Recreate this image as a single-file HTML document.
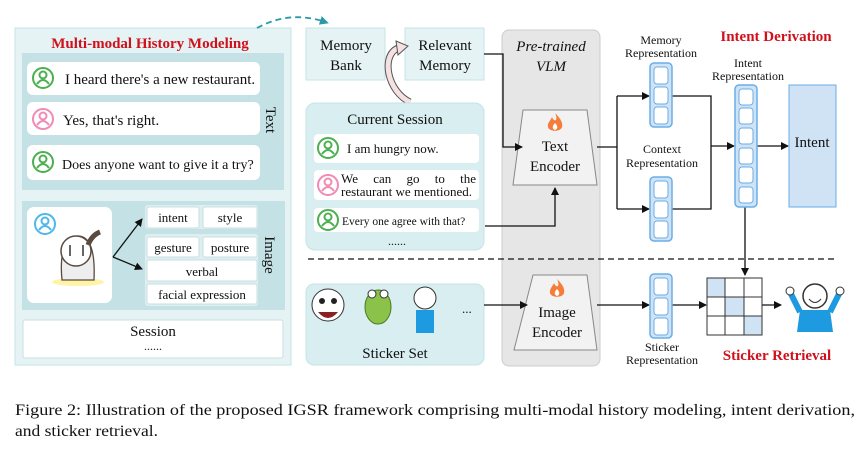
<!DOCTYPE html>
<html><head><meta charset="utf-8"><style>
body{margin:0;background:#fff}
svg{display:block}
text{font-family:"Liberation Serif",serif;fill:#111}
</style></head><body>
<svg width="865" height="451" viewBox="0 0 865 451" xmlns="http://www.w3.org/2000/svg">
<defs>
<marker id="a" markerWidth="8" markerHeight="8" refX="7" refY="4" orient="auto" markerUnits="userSpaceOnUse"><path d="M0,0 L8,4 L0,8z" fill="#111"/></marker>
<marker id="t" markerWidth="9" markerHeight="9" refX="5" refY="4.5" orient="auto" markerUnits="userSpaceOnUse"><path d="M0,0 L9,4.5 L0,9z" fill="#2a9aa8"/></marker>
<g id="user"><circle r="10" fill="none" stroke-width="2"/><circle cy="-3" r="3.5" fill="none" stroke-width="2"/><path d="M-6,6 Q0,-2 6,6" fill="none" stroke-width="2"/></g>
<g id="vec3"><rect x="0" y="0" width="22" height="64" rx="4" fill="#cfe3f5" stroke="#6aaee8" stroke-width="1.5"/><rect x="4" y="4" width="14" height="17" rx="3" fill="#fff" stroke="#6aaee8"/><rect x="4" y="24" width="14" height="17" rx="3" fill="#fff" stroke="#6aaee8"/><rect x="4" y="44" width="14" height="17" rx="3" fill="#fff" stroke="#6aaee8"/></g>
<g id="fire"><path d="M0,-10 C6,-4 8,0 7,4 C6,9 -6,9 -7,4 C-8,0 -4,-3 -3,-6 C-2,-3 0,-2 1,-3 C2,-5 1,-8 0,-10z" fill="#f57c3a"/><path d="M0,0 C3,3 3,6 0,7 C-3,6 -3,3 0,0z" fill="#fff"/></g>
</defs>

<rect x="15" y="28" width="276" height="337" fill="#e5f3f4" stroke="#c5e3e6"/>
<text x="150" y="48" text-anchor="middle" font-weight="bold" font-size="15" style="fill:#d0101a">Multi-modal History Modeling</text>
<rect x="22" y="53" width="262" height="137" fill="#c4e2e5"/>
<rect x="27" y="62" width="233" height="33" rx="6" fill="#fff"/>
<rect x="27" y="102" width="233" height="33" rx="6" fill="#fff"/>
<rect x="27" y="145" width="233" height="35" rx="6" fill="#fff"/>
<use href="#user" x="43" y="78" stroke="#4caf50"/>
<use href="#user" x="43" y="119" stroke="#f08bb5"/>
<use href="#user" x="43" y="162" stroke="#4caf50"/>
<text x="65" y="84" font-size="15">I heard there's a new restaurant.</text>
<text x="63" y="125" font-size="15">Yes, that's right.</text>
<text x="62" y="169" font-size="14">Does anyone want to give it a try?</text>
<text transform="translate(266,120) rotate(90)" text-anchor="middle" font-size="15">Text</text>

<rect x="22" y="201" width="263" height="109" fill="#c4e2e5"/>
<rect x="27" y="207" width="85" height="96" rx="7" fill="#fff"/>
<use href="#user" x="45" y="224" stroke="#4fb8ea"/>
<ellipse cx="78" cy="282" rx="26" ry="4" fill="#fff3a8"/>
<path d="M62,280 Q58,240 78,236 Q96,236 94,280z" fill="#eee" stroke="#5a4a40" stroke-width="1.3"/>
<circle cx="76" cy="251" r="15" fill="#fff" stroke="#5a4a40" stroke-width="1.5"/>
<line x1="70" y1="245" x2="70" y2="256" stroke="#333" stroke-width="1.5"/><line x1="83" y1="245" x2="83" y2="256" stroke="#333" stroke-width="1.5"/>
<path d="M88,245 Q92,235 100,232" stroke="#5a4a40" stroke-width="5" fill="none"/>
<rect x="145" y="205" width="113" height="24" rx="3" fill="#ddeff1"/>
<rect x="145" y="234" width="113" height="72" rx="3" fill="#ddeff1"/>
<g stroke="#c9dfe1">
<rect x="147" y="207" width="52" height="21" rx="2" fill="#fff"/><rect x="203" y="207" width="54" height="21" rx="2" fill="#fff"/>
<rect x="147" y="237" width="52" height="20" rx="2" fill="#fff"/><rect x="203" y="237" width="54" height="20" rx="2" fill="#fff"/>
<rect x="147" y="260" width="110" height="21" rx="2" fill="#fff"/><rect x="147" y="284" width="110" height="20" rx="2" fill="#fff"/>
</g>
<g font-size="13" text-anchor="middle">
<text x="173" y="222">intent</text><text x="230" y="222">style</text>
<text x="173" y="252">gesture</text><text x="230" y="252">posture</text>
<text x="202" y="276">verbal</text><text x="202" y="299">facial expression</text>
</g>
<line x1="113" y1="257" x2="142" y2="219" stroke="#111" stroke-width="1.3" marker-end="url(#a)"/>
<line x1="113" y1="257" x2="142" y2="269" stroke="#111" stroke-width="1.3" marker-end="url(#a)"/>
<text transform="translate(265,255) rotate(90)" text-anchor="middle" font-size="15">Image</text>
<rect x="23" y="320" width="260" height="38" rx="2" fill="#fff" stroke="#c9dfe1"/>
<text x="153" y="336" text-anchor="middle" font-size="15">Session</text>
<text x="153" y="350" text-anchor="middle" font-size="12">......</text>

<path d="M257,28 Q290,10 325,22" fill="none" stroke="#2a9aa8" stroke-width="1.8" stroke-dasharray="6,4" marker-end="url(#t)"/>

<rect x="306" y="28" width="79" height="52" fill="#e5f3f4" stroke="#c5e3e6"/>
<text x="346" y="50" text-anchor="middle" font-size="15">Memory</text>
<text x="346" y="70" text-anchor="middle" font-size="15">Bank</text>
<rect x="405" y="28" width="79" height="52" fill="#e5f3f4" stroke="#c5e3e6"/>
<text x="445" y="50" text-anchor="middle" font-size="15">Relevant</text>
<text x="445" y="70" text-anchor="middle" font-size="15">Memory</text>
<path d="M410,102 C388,92 380,56 398,48" fill="none" stroke="#555" stroke-width="7"/>
<path d="M410,102 C388,92 380,56 398,48" fill="none" stroke="#f5e1e1" stroke-width="5"/>
<path d="M396,41 L408,46 L398,55z" fill="#f5e1e1" stroke="#555" stroke-width="1"/>

<rect x="306" y="103" width="178" height="147" rx="9" fill="#d9eef0" stroke="#c5e3e6"/>
<text x="395" y="124" text-anchor="middle" font-size="15">Current Session</text>
<rect x="314" y="134" width="165" height="29" rx="4" fill="#fff"/>
<rect x="314" y="170" width="165" height="30" rx="4" fill="#fff"/>
<rect x="314" y="208" width="165" height="24" rx="4" fill="#fff"/>
<use href="#user" x="328" y="148" stroke="#4caf50"/>
<use href="#user" x="328" y="185" stroke="#f08bb5"/>
<use href="#user" x="328" y="220" stroke="#4caf50"/>
<text x="347" y="153" font-size="13">I am hungry now.</text>
<text x="341" y="183" font-size="13" word-spacing="12">We can go to the</text>
<text x="341" y="196" font-size="13">restaurant we mentioned.</text>
<text x="342" y="225" font-size="11.5">Every one agree with that?</text>
<text x="397" y="245" text-anchor="middle" font-size="12">......</text>

<rect x="306" y="284" width="178" height="81" rx="8" fill="#d9eef0" stroke="#c5e3e6"/>
<circle cx="328" cy="305" r="16" fill="#fff" stroke="#333"/><path d="M318,312 Q328,324 338,312z" fill="#8b2020"/>
<circle cx="322" cy="301" r="3" fill="#222"/><circle cx="334" cy="301" r="3" fill="#222"/>
<ellipse cx="378" cy="307" rx="13" ry="17" fill="#8bc34a" stroke="#4a7a20"/>
<circle cx="372" cy="294" r="4" fill="#fff" stroke="#333"/><circle cx="384" cy="294" r="4" fill="#fff" stroke="#333"/>
<circle cx="425" cy="298" r="11" fill="#fff" stroke="#333"/><rect x="416" y="310" width="18" height="23" fill="#1e9be0"/>
<text x="462" y="313" font-size="13">...</text>
<text x="395" y="358" text-anchor="middle" font-size="15">Sticker Set</text>

<rect x="502" y="30" width="98" height="336" rx="7" fill="#e6e6e6" stroke="#ccc"/>
<text x="551" y="51" text-anchor="middle" font-size="15" font-style="italic">Pre-trained</text>
<text x="551" y="71" text-anchor="middle" font-size="15" font-style="italic">VLM</text>
<path d="M523,110 L587,110 L597,185 L513,185z" fill="#f2f2f2" stroke="#888"/>
<use href="#fire" x="555" y="123"/>
<text x="555" y="151" text-anchor="middle" font-size="15">Text</text>
<text x="555" y="171" text-anchor="middle" font-size="15">Encoder</text>
<path d="M533,275 L587,275 L597,350 L514,350z" fill="#f2f2f2" stroke="#888"/>
<use href="#fire" x="557" y="289"/>
<text x="557" y="317" text-anchor="middle" font-size="15">Image</text>
<text x="557" y="337" text-anchor="middle" font-size="15">Encoder</text>

<g fill="none" stroke="#111" stroke-width="1.3">
<path d="M484,54 L503,54 L503,147 L522,147" marker-end="url(#a)"/>
<path d="M485,226 L555,226 L555,188" marker-end="url(#a)"/>
<path d="M484,305 L527,305" marker-end="url(#a)"/>
<path d="M597,147 L617,147"/>
<path d="M617,96 L617,209"/>
<path d="M617,96 L649,96" marker-end="url(#a)"/>
<path d="M617,209 L649,209" marker-end="url(#a)"/>
<path d="M672,96 L711,96 L711,209 L672,209"/>
<path d="M711,146 L734,146" marker-end="url(#a)"/>
<path d="M757,146 L788,146" marker-end="url(#a)"/>
<path d="M745,207 L745,275" marker-end="url(#a)"/>
<path d="M597,305 L649,305" marker-end="url(#a)"/>
<path d="M672,305 L706,305" marker-end="url(#a)"/>
<path d="M762,305 L781,305" marker-end="url(#a)"/>
</g>
<line x1="308" y1="259" x2="835" y2="259" stroke="#111" stroke-width="1.3" stroke-dasharray="6,4"/>

<use href="#vec3" x="650" y="63"/>
<use href="#vec3" x="650" y="177"/>
<use href="#vec3" x="650" y="274"/>
<g>
<rect x="735" y="85" width="22" height="122" rx="4" fill="#cfe3f5" stroke="#6aaee8" stroke-width="1.5"/>
<rect x="739" y="89" width="14" height="16" rx="3" fill="#fff" stroke="#6aaee8"/>
<rect x="739" y="108" width="14" height="16" rx="3" fill="#fff" stroke="#6aaee8"/>
<rect x="739" y="128" width="14" height="16" rx="3" fill="#fff" stroke="#6aaee8"/>
<rect x="739" y="148" width="14" height="16" rx="3" fill="#fff" stroke="#6aaee8"/>
<rect x="739" y="167" width="14" height="16" rx="3" fill="#fff" stroke="#6aaee8"/>
<rect x="739" y="187" width="14" height="16" rx="3" fill="#fff" stroke="#6aaee8"/>
</g>
<rect x="789" y="85" width="47" height="122" fill="#cfe3f5" stroke="#6aaee8"/>
<text x="812" y="147" text-anchor="middle" font-size="15">Intent</text>

<g stroke="#333" stroke-width="1">
<rect x="707" y="278" width="55" height="57" fill="#fff"/>
<rect x="707" y="278" width="18" height="19" fill="#cfe3f5"/>
<rect x="725" y="297" width="19" height="19" fill="#cfe3f5"/>
<rect x="744" y="316" width="18" height="19" fill="#cfe3f5"/>
<line x1="725" y1="278" x2="725" y2="335"/><line x1="744" y1="278" x2="744" y2="335"/>
<line x1="707" y1="297" x2="762" y2="297"/><line x1="707" y1="316" x2="762" y2="316"/>
</g>
<circle cx="815" cy="296" r="12" fill="#fff" stroke="#333" stroke-width="1.5"/>
<path d="M809,299 Q815,306 821,299" fill="none" stroke="#333"/>
<path d="M797,332 L800,310 L830,310 L833,332z" fill="#1e9be0"/>
<path d="M800,312 L790,292 M830,312 L840,292" stroke="#1e9be0" stroke-width="6"/>
<circle cx="790" cy="291" r="4" fill="#fff" stroke="#333"/><circle cx="840" cy="291" r="4" fill="#fff" stroke="#333"/>

<g font-size="12" text-anchor="middle">
<text x="661" y="44">Memory</text><text x="661" y="57">Representation</text>
<text x="748" y="67">Intent</text><text x="748" y="80">Representation</text>
<text x="662" y="153">Context</text><text x="662" y="167">Representation</text>
<text x="662" y="351">Sticker</text><text x="662" y="364">Representation</text>
</g>
<text x="776" y="41" text-anchor="middle" font-weight="bold" font-size="15" style="fill:#d0101a">Intent Derivation</text>
<text x="777" y="360" text-anchor="middle" font-weight="bold" font-size="15" style="fill:#d0101a">Sticker Retrieval</text>

<text x="15" y="415" font-size="15.5" textLength="840" lengthAdjust="spacingAndGlyphs">Figure 2: Illustration of the proposed IGSR framework comprising multi-modal history modeling, intent derivation,</text>
<text x="15" y="436" font-size="15.5" textLength="143" lengthAdjust="spacingAndGlyphs">and sticker retrieval.</text>
</svg>
</body></html>
